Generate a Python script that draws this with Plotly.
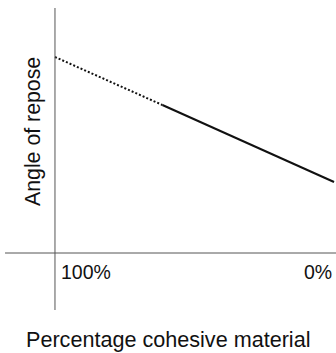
import plotly.graph_objects as go

# Data (arbitrary angle units; axis unlabeled in reference)
dotted_x = [100, 61.5]
dotted_y = [39.2, 29.6]
solid_x = [61.5, 0]
solid_y = [29.6, 14.2]
tick_vals = [100, 0]
tick_text = ["100%", "0%"]
x_title = "Percentage cohesive material"
y_title = "Angle of repose"

FONT = "Liberation Sans, Arial, Helvetica, sans-serif"

fig = go.Figure()
fig.add_trace(go.Scatter(x=dotted_x, y=dotted_y, mode="lines",
                         line=dict(color="#111", width=2, dash="2px,2px"),
                         showlegend=False, hoverinfo="skip"))
fig.add_trace(go.Scatter(x=solid_x, y=solid_y, mode="lines",
                         line=dict(color="#111", width=2),
                         showlegend=False, hoverinfo="skip"))

# axis lines
fig.add_shape(type="line", xref="x", yref="y", x0=100, x1=100, y0=-11.4, y1=49,
              line=dict(color="#555", width=1))
fig.add_shape(type="line", xref="x", yref="y", x0=117.9, x1=-0.7, y0=0, y1=0,
              line=dict(color="#555", width=1))

# tick labels
fig.add_annotation(x=tick_vals[0], y=-3.8, xref="x", yref="y", text=tick_text[0],
                   showarrow=False, xanchor="left", yanchor="middle", xshift=4,
                   font=dict(family=FONT, size=19.5, color="#111"))
fig.add_annotation(x=tick_vals[1], y=-3.8, xref="x", yref="y", text=tick_text[1],
                   showarrow=False, xanchor="right", yanchor="middle", xshift=0,
                   font=dict(family=FONT, size=19.5, color="#111"))

# axis titles
fig.add_annotation(x=0.5, y=1 - 339 / 353, xref="paper", yref="paper", text=x_title,
                   showarrow=False, xanchor="center", yanchor="middle", borderpad=0,
                   font=dict(family=FONT, size=21.6, color="#111"))
fig.add_annotation(x=33 / 336, y=1 - 132 / 353, xref="paper", yref="paper", text=y_title,
                   showarrow=False, xanchor="center", yanchor="middle", textangle=-90,
                   font=dict(family=FONT, size=21.3, color="#111"))

fig.update_layout(
    width=336, height=353,
    margin=dict(l=0, r=0, t=0, b=0),
    paper_bgcolor="white", plot_bgcolor="white",
    xaxis=dict(range=[119.7, -0.7], visible=False, fixedrange=True),
    yaxis=dict(range=[-20, 50.6], visible=False, fixedrange=True),
)

fig.write_html("out.html", config={"displayModeBar": False},
               post_script="document.body.style.margin='0';document.body.style.padding='0';document.body.style.overflow='hidden';")
